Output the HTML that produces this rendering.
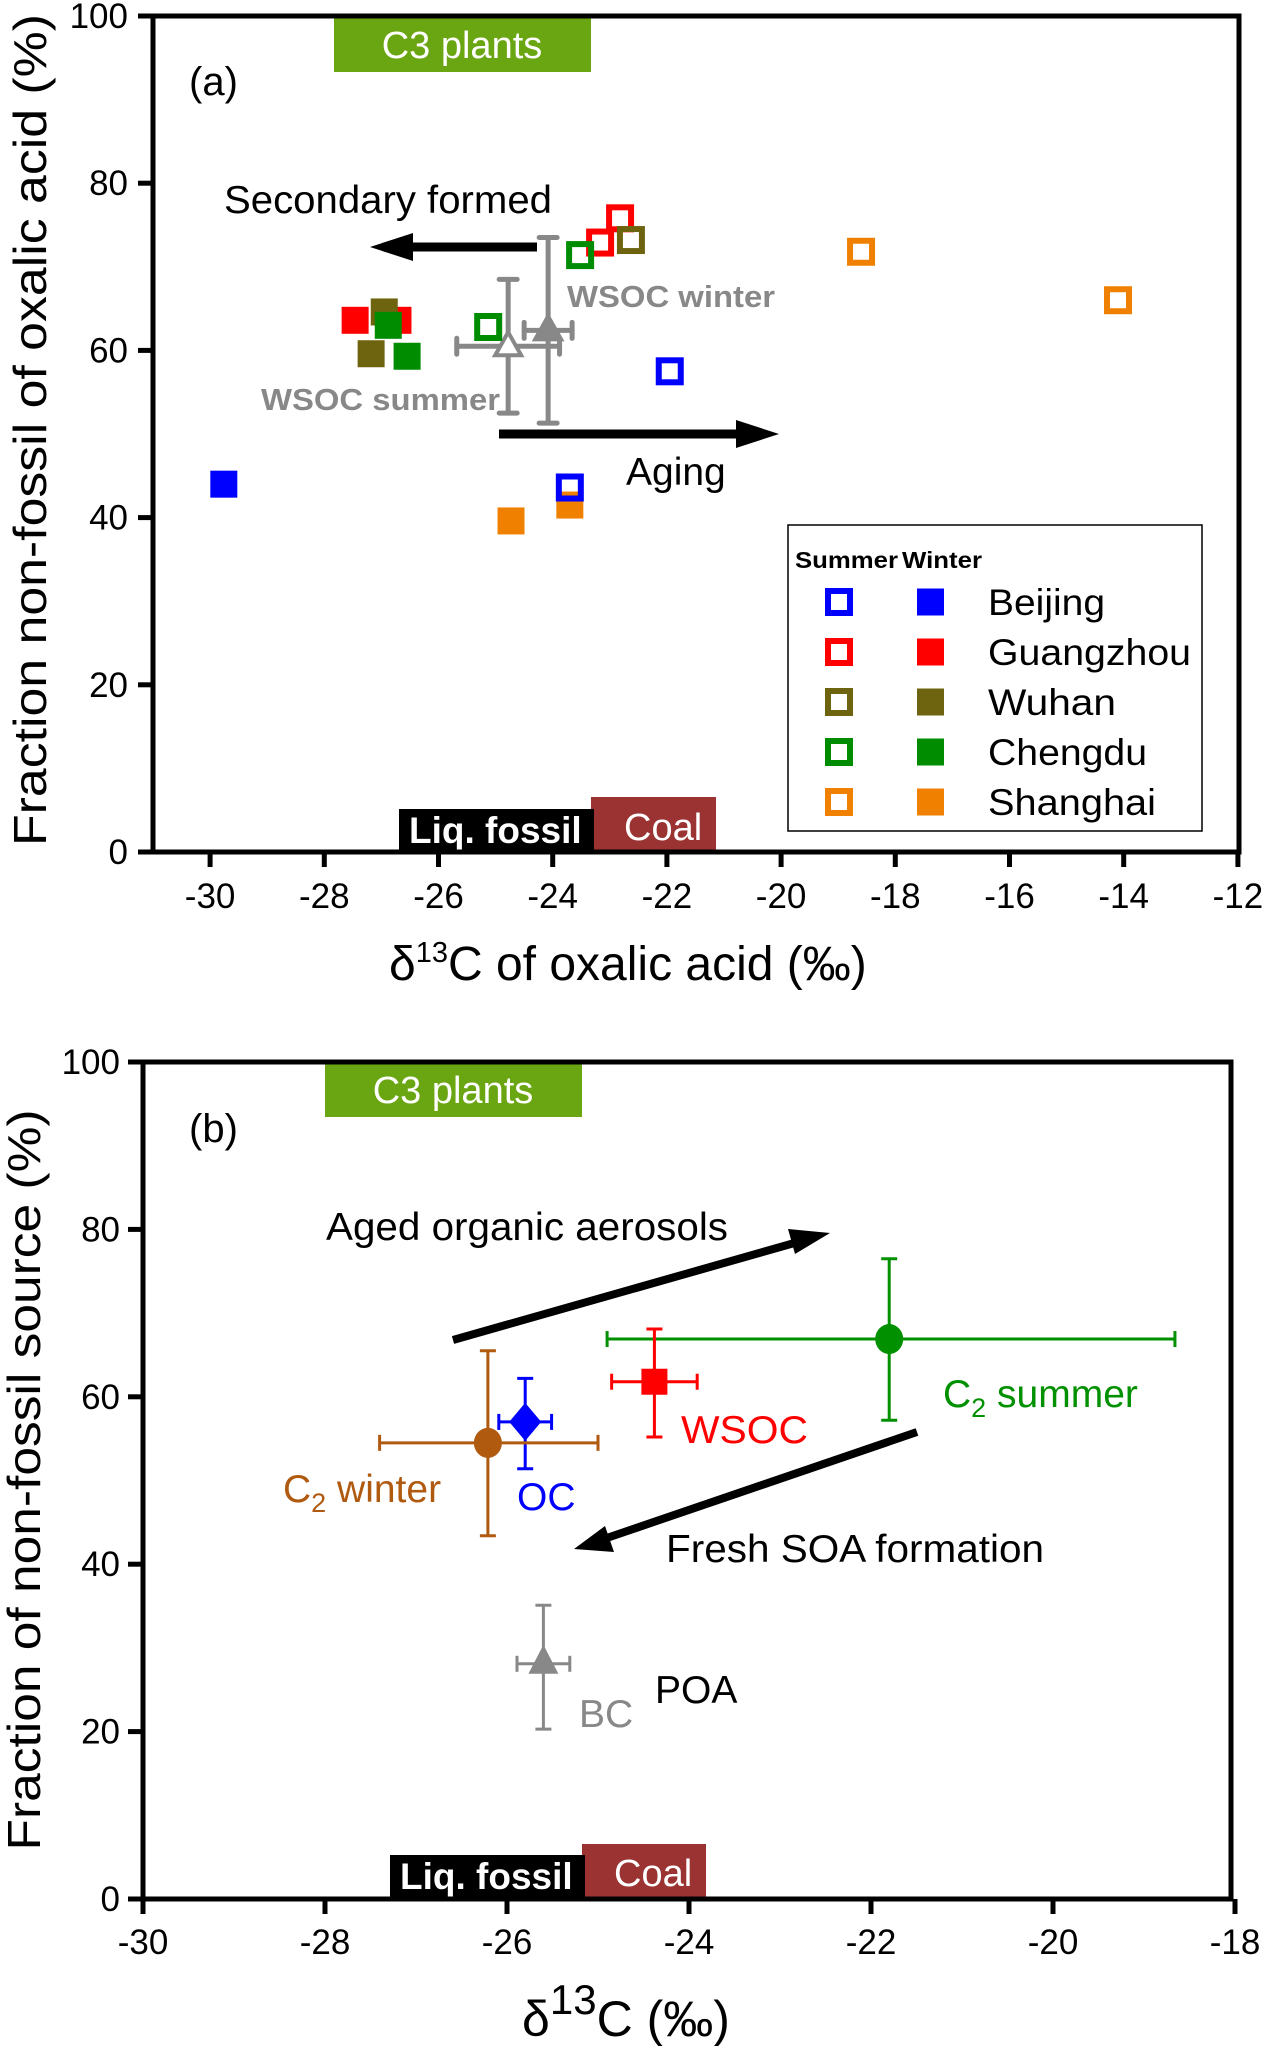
<!DOCTYPE html>
<html><head><meta charset="utf-8"><style>
html,body{margin:0;padding:0;background:#fff}
svg{display:block}
text{font-family:"Liberation Sans",sans-serif}
</style></head><body>
<svg id="chart" width="1266" height="2046" viewBox="0 0 1266 2046" xmlns="http://www.w3.org/2000/svg">
<g id="pa"></g>
<g id="pb"></g>
</svg>
<script>
// ---------- Panel A data ----------
const cities = ["Beijing","Guangzhou","Wuhan","Chengdu","Shanghai"];
const cityColors = ["#0000ff","#ff0000","#6e6410","#008c00","#f08000"];
const summerCity = [1,1,2,3,3,0,0,4,4];
const summerX = [-22.82,-23.17,-22.63,-23.52,-25.13,-21.95,-23.70,-18.60,-14.10];
const summerY = [75.8,72.9,73.2,71.4,62.8,57.5,43.6,71.8,66.0];
const winterCity = [1,1,2,2,3,3,0,4,4];
const winterX = [-27.46,-26.71,-26.95,-27.18,-26.88,-26.55,-29.76,-24.73,-23.70];
const winterY = [63.6,63.6,64.6,59.6,63.0,59.3,44.0,39.6,41.5];
const wsocLabels = ["WSOC summer","WSOC winter"];
const wsocX = [-24.78,-24.08];
const wsocY = [60.5,62.4];
const wsocXErr = [0.90,0.42];
const wsocYErr = [8.0,11.1];
const aXTicks = [-30,-28,-26,-24,-22,-20,-18,-16,-14,-12];
const aYTicks = [0,20,40,60,80,100];
// ---------- Panel B data ----------
const bNames = ["C2 summer","WSOC","OC","C2 winter","BC"];
const bColors = ["#009000","#ff0000","#0000ff","#b05a10","#888888"];
const bShapes = ["circle","square","diamond","circle","triangle"];
const bX = [-21.80,-24.38,-25.80,-26.21,-25.60];
const bY = [66.9,61.8,57.0,54.5,28.1];
const bXLo = [-24.90,-24.85,-26.09,-27.40,-25.89];
const bXHi = [-18.66,-23.91,-25.51,-25.00,-25.31];
const bYLo = [57.2,55.2,51.4,43.4,20.3];
const bYHi = [76.5,68.1,62.2,65.5,35.1];
const bXTicks = [-30,-28,-26,-24,-22,-20,-18];
const bYTicks = [0,20,40,60,80,100];

const NS="http://www.w3.org/2000/svg";
function mk(parent,tag,attrs,txt){const e=document.createElementNS(NS,tag);for(const k in attrs)e.setAttribute(k,attrs[k]);if(txt!==undefined)e.textContent=txt;parent.appendChild(e);return e;}

// ---------- Panel A ----------
const A=document.getElementById('pa');
const ax=v=>153+(v+31)*57.1, ay=v=>852-v*8.36;
let e;
e=mk(A,'rect',{x:334,y:18,width:257,height:54,fill:'#6aa512'});


mk(A,'text',{x:462,y:58,'font-size':38,fill:'#fff','text-anchor':'middle'},'C3 plants');
e=mk(A,'rect',{x:591,y:797,width:125,height:55,fill:'#9b3333'});


e=mk(A,'rect',{x:399,y:809,width:195,height:43,fill:'#000'});


mk(A,'text',{x:409,y:843,'font-size':37,'font-weight':'bold',fill:'#fff'},'Liq. fossil');
mk(A,'text',{x:624,y:840,'font-size':38,fill:'#fff'},'Coal');
mk(A,'text',{x:189,y:95,'font-size':40},'(a)');
e=mk(A,'line',{x1:537,y1:247,x2:395,y2:247,stroke:'#000','stroke-width':9});


mk(A,'polygon',{points:'370,247 413,233 413,261',fill:'#000'});
e=mk(A,'line',{x1:499,y1:434,x2:755,y2:434,stroke:'#000','stroke-width':9});


mk(A,'polygon',{points:'779,434 736,420 736,448',fill:'#000'});
mk(A,'text',{x:224,y:213,'font-size':39,textLength:328,lengthAdjust:'spacingAndGlyphs'},'Secondary formed');
mk(A,'text',{x:626,y:485,'font-size':39},'Aging');
wsocX.forEach((v,i)=>{
  const g=mk(A,'g',{stroke:'#888','stroke-width':5,'stroke-linecap':'round'});
  
  
  const cx=ax(v),cy=ay(wsocY[i]),x1=ax(v-wsocXErr[i]),x2=ax(v+wsocXErr[i]),y1=ay(wsocY[i]+wsocYErr[i]),y2=ay(wsocY[i]-wsocYErr[i]);
  mk(g,'line',{x1:x1,y1:cy,x2:x2,y2:cy});mk(g,'line',{x1:cx,y1:y1,x2:cx,y2:y2});
  mk(g,'line',{x1:x1,y1:cy-8,x2:x1,y2:cy+8});mk(g,'line',{x1:x2,y1:cy-8,x2:x2,y2:cy+8});
  mk(g,'line',{x1:cx-9,y1:y1,x2:cx+9,y2:y1});mk(g,'line',{x1:cx-9,y1:y2,x2:cx+9,y2:y2});
  const t=mk(A,'polygon',{points:`${cx},${cy-14} ${cx+13},${cy+9} ${cx-13},${cy+9}`,fill:i?'#888':'#fff',stroke:'#888','stroke-width':4});
  
  
});
mk(A,'text',{x:567,y:307,'font-size':31,'font-weight':'bold',fill:'#888',textLength:208,lengthAdjust:'spacingAndGlyphs'},wsocLabels[1]);
mk(A,'text',{x:261,y:410,'font-size':31,'font-weight':'bold',fill:'#888',textLength:239,lengthAdjust:'spacingAndGlyphs'},wsocLabels[0]);
winterX.forEach((v,i)=>{
  const r=mk(A,'rect',{x:ax(v)-13.5,y:ay(winterY[i])-13.5,width:27,height:27,fill:cityColors[winterCity[i]]});
  
  
});
summerX.forEach((v,i)=>{
  const r=mk(A,'rect',{x:ax(v)-11,y:ay(summerY[i])-11,width:22,height:22,fill:'none',stroke:cityColors[summerCity[i]],'stroke-width':6});
  
  
});
const L=mk(A,'g',{});


mk(L,'rect',{x:788,y:525,width:414,height:306,fill:'#fff',stroke:'#000','stroke-width':1.5});
mk(L,'text',{x:795,y:568,'font-size':23,'font-weight':'bold',textLength:103,lengthAdjust:'spacingAndGlyphs'},'Summer');
mk(L,'text',{x:902,y:568,'font-size':23,'font-weight':'bold',textLength:80,lengthAdjust:'spacingAndGlyphs'},'Winter');
const cityW=[117,203,128,159,168];
cities.forEach((c,i)=>{
  const yy=602+i*50;
  const g=mk(L,'g',{});
  
  
  mk(g,'rect',{x:828,y:yy-11,width:22,height:22,fill:'none',stroke:cityColors[i],'stroke-width':6});
  mk(g,'rect',{x:917,y:yy-13.5,width:27,height:27,fill:cityColors[i]});
  mk(g,'text',{x:988,y:yy+13,'font-size':37,textLength:cityW[i],lengthAdjust:'spacingAndGlyphs'},c);
});
const AX=mk(A,'g',{stroke:'#000','stroke-width':5,fill:'none'});


mk(AX,'rect',{x:153,y:16,width:1086,height:836});
aXTicks.forEach(t=>{mk(AX,'line',{x1:ax(t),y1:852,x2:ax(t),y2:867});
  const l=mk(A,'text',{x:ax(t),y:908,'font-size':35,'text-anchor':'middle'},String(t));
  });
aYTicks.forEach(t=>{mk(AX,'line',{x1:138,y1:ay(t),x2:153,y2:ay(t)});
  const l=mk(A,'text',{x:128,y:ay(t)+12,'font-size':35,'text-anchor':'end'},String(t));
  });
e=mk(A,'text',{x:0,y:0,'font-size':46,'text-anchor':'middle',transform:'translate(46,430) rotate(-90)',textLength:832,lengthAdjust:'spacingAndGlyphs'},'Fraction non-fossil of oxalic acid (%)');

e=mk(A,'text',{x:389,y:980,'font-size':48},'');

mk(e,'tspan',{},'δ');mk(e,'tspan',{dy:-18,'font-size':29},'13');mk(e,'tspan',{dy:18},'C of oxalic acid (‰)');

// ---------- Panel B ----------
const B=document.getElementById('pb');
const bx=v=>143+(v+30)*91, by=v=>1899-v*8.37;
e=mk(B,'rect',{x:325,y:1064,width:257,height:53,fill:'#6aa512'});

mk(B,'text',{x:453,y:1103,'font-size':38,fill:'#fff','text-anchor':'middle'},'C3 plants');
e=mk(B,'rect',{x:582,y:1844,width:124,height:55,fill:'#9b3333'});

e=mk(B,'rect',{x:390,y:1855,width:195,height:44,fill:'#000'});

mk(B,'text',{x:400,y:1889,'font-size':37,'font-weight':'bold',fill:'#fff'},'Liq. fossil');
mk(B,'text',{x:614,y:1886,'font-size':38,fill:'#fff'},'Coal');
mk(B,'text',{x:189,y:1142,'font-size':40},'(b)');
e=mk(B,'line',{x1:453,y1:1340,x2:805,y2:1240,stroke:'#000','stroke-width':8});

mk(B,'polygon',{points:'830,1233 795,1254 788,1229',fill:'#000'});
e=mk(B,'line',{x1:917,y1:1432,x2:598,y2:1541,stroke:'#000','stroke-width':8});

mk(B,'polygon',{points:'574,1549 605,1526 614,1552',fill:'#000'});
mk(B,'text',{x:326,y:1240,'font-size':39,textLength:402,lengthAdjust:'spacingAndGlyphs'},'Aged organic aerosols');
mk(B,'text',{x:666,y:1562,'font-size':39,textLength:378,lengthAdjust:'spacingAndGlyphs'},'Fresh SOA formation');
mk(B,'text',{x:655,y:1703,'font-size':39},'POA');
bX.forEach((v,i)=>{
  const g=mk(B,'g',{});
  
  
  const c=bColors[i],cx=bx(v),cy=by(bY[i]),x1=bx(bXLo[i]),x2=bx(bXHi[i]),y1=by(bYHi[i]),y2=by(bYLo[i]);
  const s={stroke:c,'stroke-width':3};
  mk(g,'line',Object.assign({x1:x1,y1:cy,x2:x2,y2:cy},s));mk(g,'line',Object.assign({x1:cx,y1:y1,x2:cx,y2:y2},s));
  mk(g,'line',Object.assign({x1:x1,y1:cy-8,x2:x1,y2:cy+8},s));mk(g,'line',Object.assign({x1:x2,y1:cy-8,x2:x2,y2:cy+8},s));
  mk(g,'line',Object.assign({x1:cx-8,y1:y1,x2:cx+8,y2:y1},s));mk(g,'line',Object.assign({x1:cx-8,y1:y2,x2:cx+8,y2:y2},s));
  if(bShapes[i]==='circle')mk(g,'ellipse',{cx:cx,cy:cy,rx:14,ry:15,fill:c});
  else if(bShapes[i]==='square')mk(g,'rect',{x:cx-13,y:cy-13,width:26,height:26,fill:c});
  else if(bShapes[i]==='diamond')mk(g,'polygon',{points:`${cx},${cy-19} ${cx+16},${cy} ${cx},${cy+19} ${cx-16},${cy}`,fill:c});
  else mk(g,'polygon',{points:`${cx},${cy-19} ${cx+15},${cy+10} ${cx-15},${cy+10}`,fill:c});
});
e=mk(B,'text',{x:943,y:1407,'font-size':39,fill:'#009000'},'C');mk(e,'tspan',{dy:10,'font-size':27},'2');mk(e,'tspan',{dy:-10},' summer');
mk(B,'text',{x:681,y:1443,'font-size':39,fill:'#ff0000',textLength:127,lengthAdjust:'spacingAndGlyphs'},'WSOC');
mk(B,'text',{x:517,y:1510,'font-size':39,fill:'#0000ff'},'OC');
e=mk(B,'text',{x:283,y:1502,'font-size':39,fill:'#b05a10'},'C');mk(e,'tspan',{dy:10,'font-size':27},'2');mk(e,'tspan',{dy:-10},' winter');
mk(B,'text',{x:579,y:1727,'font-size':39,fill:'#888'},'BC');
const BX=mk(B,'g',{stroke:'#000','stroke-width':5,fill:'none'});

mk(BX,'rect',{x:143,y:1062,width:1088,height:837});
bXTicks.forEach(t=>{mk(BX,'line',{x1:bx(t),y1:1899,x2:bx(t),y2:1914});
  const l=mk(B,'text',{x:bx(t),y:1954,'font-size':35,'text-anchor':'middle'},String(t));
  });
bYTicks.forEach(t=>{mk(BX,'line',{x1:128,y1:by(t),x2:143,y2:by(t)});
  const l=mk(B,'text',{x:120,y:by(t)+12,'font-size':35,'text-anchor':'end'},String(t));
  });
e=mk(B,'text',{x:0,y:0,'font-size':46,'text-anchor':'middle',transform:'translate(40,1480) rotate(-90)',textLength:741,lengthAdjust:'spacingAndGlyphs'},'Fraction of non-fossil source (%)');

e=mk(B,'text',{x:522,y:2036,'font-size':50},'');

mk(e,'tspan',{},'δ');mk(e,'tspan',{dy:-22,'font-size':42},'13');mk(e,'tspan',{dy:22},'C  (‰)');
</script>
</body></html>
